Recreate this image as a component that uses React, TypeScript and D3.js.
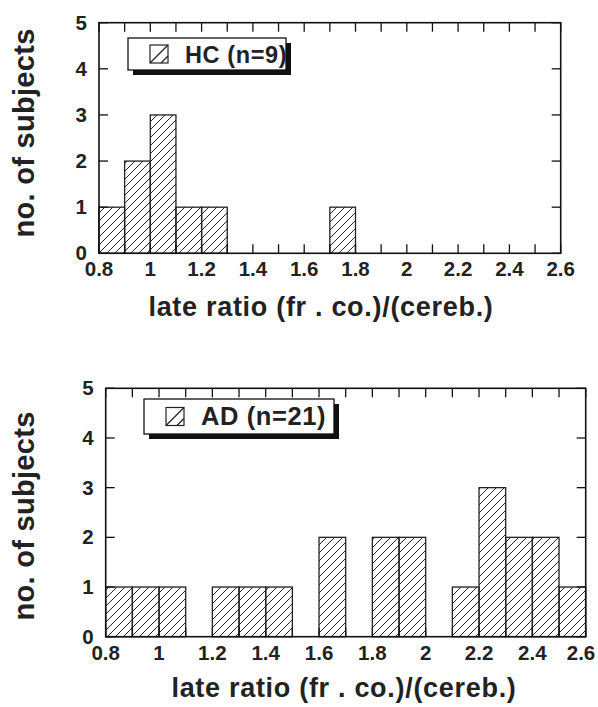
import React from 'react';
import * as d3 from 'd3';

// histogram bins (left edge of each 0.1-wide bin)
const binStarts = [0.8, 0.9, 1.0, 1.1, 1.2, 1.3, 1.4, 1.5, 1.6, 1.7, 1.8, 1.9, 2.0, 2.1, 2.2, 2.3, 2.4, 2.5];
const hcCounts = [1, 2, 3, 1, 1, 0, 0, 0, 0, 1, 0, 0, 0, 0, 0, 0, 0, 0];
const adCounts = [1, 1, 1, 0, 1, 1, 1, 0, 2, 0, 2, 2, 0, 1, 3, 2, 2, 1];
const xTickLabels = [0.8, 1, 1.2, 1.4, 1.6, 1.8, 2, 2.2, 2.4, 2.6];
const yTickLabels = [0, 1, 2, 3, 4, 5];
const binWidth = 0.1;

const FONT = '"Liberation Sans", Arial, Helvetica, sans-serif';
const W = 598;

type PanelProps = {
  counts: number[];
  label: string;
  left: number; right: number; top: number; bottom: number;
  legend: { x: number; y: number; w: number; h: number; fs: number };
  xTitleX: number; xTitleY: number;
  yTitleY: number;
  xLabelY: number;
  id: string;
};

const Panel = ({counts, label, left, right, top, bottom, legend, xTitleX, xTitleY, yTitleY, xLabelY, id}: PanelProps) => {
  const x = d3.scaleLinear().domain([0.8, 2.6]).range([left, right]);
  const y = d3.scaleLinear().domain([0, 5]).range([bottom, top]);
  const minor = d3.range(0, 19).map(i => 0.8 + i * binWidth);
  const tl = 9;

  return (
    <g>
      <defs>
        <pattern id={'hatch' + id} patternUnits="userSpaceOnUse" width={8} height={8}>
          <path d="M-2,2 L2,-2 M0,8 L8,0 M6,10 L10,6" stroke="#222" strokeWidth={1} />
        </pattern>
      </defs>

      {/* bars */}
      {binStarts.map((b, i) => counts[i] > 0 && (
        <rect key={i}
          x={x(b)} y={y(counts[i])}
          width={x(b + binWidth) - x(b)} height={y(0) - y(counts[i])}
          fill={`url(#hatch${id})`} stroke="#222" strokeWidth={1.3} />
      ))}

      {/* frame */}
      <rect x={left} y={top} width={right - left} height={bottom - top} fill="none" stroke="#111" strokeWidth={1.6} />

      {/* ticks, inward on all four sides */}
      {minor.map((v, i) => (
        <g key={'mx' + i}>
          <line x1={x(v)} x2={x(v)} y1={bottom} y2={bottom - tl} stroke="#111" strokeWidth={1.3} />
          <line x1={x(v)} x2={x(v)} y1={top} y2={top + tl} stroke="#111" strokeWidth={1.3} />
        </g>
      ))}
      {yTickLabels.map(v => (
        <g key={'y' + v}>
          <line x1={left} x2={left + tl} y1={y(v)} y2={y(v)} stroke="#111" strokeWidth={1.3} />
          <line x1={right} x2={right - tl} y1={y(v)} y2={y(v)} stroke="#111" strokeWidth={1.3} />
          <text x={left - 12} y={y(v) + 7} textAnchor="end" fontSize={20.5} fontWeight="bold" fontFamily={FONT} fill="#222">{v}</text>
        </g>
      ))}
      {xTickLabels.map(v => (
        <text key={'xl' + v} x={Math.min(x(v), W - 17)} y={xLabelY} textAnchor="middle" fontSize={20.5} fontWeight="bold" fontFamily={FONT} fill="#222">{v}</text>
      ))}

      {/* axis titles */}
      <text x={xTitleX} y={xTitleY} textAnchor="middle" fontSize={27} letterSpacing={0.7} fontWeight="bold" fontFamily={FONT} fill="#222">late ratio (fr . co.)/(cereb.)</text>
      <text transform={`translate(34,${yTitleY}) rotate(-90)`} textAnchor="middle" fontSize={29} letterSpacing={0.3} fontWeight="bold" fontFamily={FONT} fill="#222">no. of subjects</text>

      {/* legend with drop shadow */}
      <rect x={legend.x + 5} y={legend.y + 5} width={legend.w} height={legend.h} fill="#111" />
      <rect x={legend.x} y={legend.y} width={legend.w} height={legend.h} fill="#fff" stroke="#111" strokeWidth={1.3} />
      <rect x={legend.x + 22} y={legend.y + (legend.h - 18) / 2} width={18} height={18} fill="#fff" stroke="#222" strokeWidth={1.2} />
      <line x1={legend.x + 22} y1={legend.y + (legend.h + 18) / 2} x2={legend.x + 40} y2={legend.y + (legend.h - 18) / 2} stroke="#222" strokeWidth={1.2} />
      <line x1={legend.x + 33} y1={legend.y + (legend.h + 18) / 2} x2={legend.x + 40} y2={legend.y + (legend.h + 18) / 2 - 7} stroke="#222" strokeWidth={1.2} />
      <text x={legend.x + 57} y={legend.y + legend.h / 2 + 8.5} fontSize={legend.fs} letterSpacing={0.6} fontWeight="bold" fontFamily={FONT} fill="#222">{label}</text>
    </g>
  );
};

export default function App() {
  return (
    <svg width={W} height={707} style={{position: 'absolute', left: 0, top: 0, background: '#fff'}}>
      <Panel id="hc" counts={hcCounts} label="HC (n=9)"
        left={99} right={560.7} top={22.7} bottom={253.3}
        legend={{x: 128, y: 38, w: 158, h: 32, fs: 23.5}}
        xTitleX={321} xTitleY={316} yTitleY={133} xLabelY={276} />
      <Panel id="ad" counts={adCounts} label="AD (n=21)"
        left={105.7} right={585.7} top={388.3} bottom={636.7}
        legend={{x: 144, y: 399, w: 190, h: 35, fs: 25.5}}
        xTitleX={344} xTitleY={697} yTitleY={516} xLabelY={660} />
    </svg>
  );
}
